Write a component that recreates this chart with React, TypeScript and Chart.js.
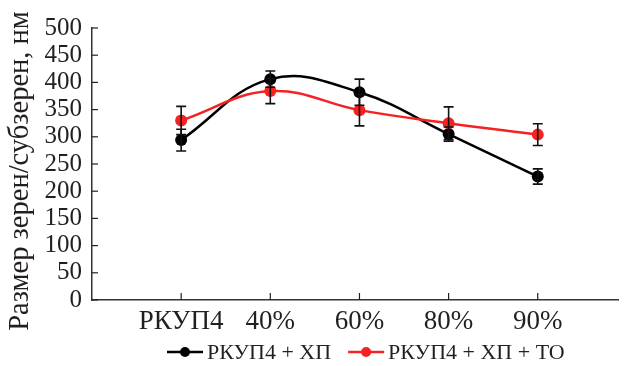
import React, { useEffect, useRef } from "react";
import { Chart, registerables } from "chart.js";

Chart.register(...registerables);

const categories = ["РКУП4", "40%", "60%", "80%", "90%"];
const xPositions = [1, 2, 3, 4, 5];
const seriesHP = [294, 406, 382, 305, 227];
const errHP = [20, 15, 24, 13, 14];
const seriesHPTO = [330, 384, 349, 325, 304];
const errHPTO = [26, 23, 29, 30, 20];
const legendLabels = ["РКУП4 + ХП", "РКУП4 + ХП + ТО"];
const yTitle = "Размер зерен/субзерен, нм";
const yMin = 0;
const yMax = 500;
const yStep = 50;

const FONT = "'Liberation Serif', 'Times New Roman', serif";
const TEXT = "#231f20";
const BLACK = "#000000";
const RED = "#f42222";

export default function App() {
  const ref = useRef<HTMLCanvasElement | null>(null);

  useEffect(() => {
    document.body.style.margin = "0";
    const canvas = ref.current;
    if (!canvas) return;

    const errorBars = {
      id: "errorBars",
      afterDatasetsDraw(chart: any) {
        const ctx = chart.ctx;
        const xs = chart.scales.x;
        const ys = chart.scales.y;
        const sets = [
          { v: seriesHP, e: errHP },
          { v: seriesHPTO, e: errHPTO },
        ];
        ctx.save();
        ctx.strokeStyle = "#111";
        ctx.lineWidth = 1.6;
        sets.forEach((s) => {
          s.v.forEach((val, i) => {
            const px = xs.getPixelForValue(xPositions[i]);
            const top = ys.getPixelForValue(val + s.e[i]);
            const bot = ys.getPixelForValue(val - s.e[i]);
            ctx.beginPath();
            ctx.moveTo(px, top);
            ctx.lineTo(px, bot);
            ctx.moveTo(px - 5, top);
            ctx.lineTo(px + 5, top);
            ctx.moveTo(px - 5, bot);
            ctx.lineTo(px + 5, bot);
            ctx.stroke();
          });
        });
        ctx.restore();
      },
    };

    const innerTicks = {
      id: "innerTicks",
      afterDraw(chart: any) {
        const ctx = chart.ctx;
        const xs = chart.scales.x;
        const ys = chart.scales.y;
        const area = chart.chartArea;
        ctx.save();
        ctx.strokeStyle = "#222";
        ctx.lineWidth = 1.2;
        for (let v = yMin; v <= yMax; v += yStep) {
          const py = ys.getPixelForValue(v);
          ctx.beginPath();
          ctx.moveTo(area.left, py);
          ctx.lineTo(area.left + 6, py);
          ctx.stroke();
        }
        xPositions.forEach((xv) => {
          const px = xs.getPixelForValue(xv);
          ctx.beginPath();
          ctx.moveTo(px, area.bottom);
          ctx.lineTo(px, area.bottom - 7);
          ctx.stroke();
        });
        ctx.restore();
      },
    };

    const yTitlePlugin = {
      id: "yTitlePlugin",
      afterDraw(chart: any) {
        const ctx = chart.ctx;
        ctx.save();
        ctx.translate(21, 171);
        ctx.rotate(-Math.PI / 2);
        ctx.font = `28.5px ${FONT}`;
        ctx.fillStyle = TEXT;
        ctx.textAlign = "center";
        ctx.textBaseline = "middle";
        ctx.fillText(yTitle, 0, 0);
        ctx.restore();
      },
    };

    const customLegend = {
      id: "customLegend",
      afterDraw(chart: any) {
        const ctx = chart.ctx;
        const y = 352;
        const colors = [BLACK, RED];
        ctx.save();
        ctx.font = `22px ${FONT}`;
        ctx.textBaseline = "middle";
        ctx.textAlign = "left";
        let x = 167;
        legendLabels.forEach((lab, i) => {
          ctx.strokeStyle = colors[i];
          ctx.fillStyle = colors[i];
          ctx.lineWidth = 2.5;
          ctx.beginPath();
          ctx.moveTo(x, y);
          ctx.lineTo(x + 36, y);
          ctx.stroke();
          ctx.beginPath();
          ctx.arc(x + 18, y, 5, 0, Math.PI * 2);
          ctx.fill();
          ctx.fillStyle = TEXT;
          ctx.fillText(lab, x + 40, y + 1);
          x += 40 + ctx.measureText(lab).width + 17;
        });
        ctx.restore();
      },
    };

    const chart = new Chart(canvas, {
      type: "line",
      data: {
        datasets: [
          {
            label: legendLabels[0],
            data: xPositions.map((x, i) => ({ x, y: seriesHP[i] })),
            borderColor: BLACK,
            backgroundColor: BLACK,
            borderWidth: 2.5,
            pointRadius: 6,
            pointBorderWidth: 0,
            tension: 0.4,
            order: 1,
          },
          {
            label: legendLabels[1],
            data: xPositions.map((x, i) => ({ x, y: seriesHPTO[i] })),
            borderColor: RED,
            backgroundColor: RED,
            borderWidth: 2.5,
            pointRadius: 6,
            pointBorderWidth: 0,
            tension: 0.4,
            order: 0,
          },
        ],
      },
      options: {
        animation: false,
        responsive: false,
        maintainAspectRatio: false,
        layout: { padding: { top: 28, right: 2, left: 0, bottom: 0 } },
        plugins: {
          legend: { display: false },
          tooltip: { enabled: false },
        },
        scales: {
          x: {
            type: "linear",
            min: 0,
            max: 5.9,
            afterBuildTicks(scale: any) {
              scale.ticks = xPositions.map((v) => ({ value: v }));
            },
            afterFit(scale: any) {
              scale.height = 66;
            },
            ticks: {
              autoSkip: false,
              maxRotation: 0,
              padding: 6,
              color: TEXT,
              font: { family: FONT, size: 27 },
              callback: (v: any) => {
                const i = xPositions.indexOf(Number(v));
                return i >= 0 ? categories[i] : "";
              },
            },
            grid: { display: false, drawTicks: false },
            border: { display: true, color: "#333", width: 1.5 },
          },
          y: {
            min: yMin,
            max: yMax,
            afterBuildTicks(scale: any) {
              const t = [];
              for (let v = yMin; v <= yMax; v += yStep) t.push({ value: v });
              scale.ticks = t;
            },
            afterFit(scale: any) {
              scale.width = 92;
            },
            ticks: {
              autoSkip: false,
              stepSize: yStep,
              padding: 10,
              color: TEXT,
              font: { family: FONT, size: 25 },
            },
            title: { display: false },
            grid: { display: false, drawTicks: false },
            border: { display: true, color: "#333", width: 1.5 },
          },
        },
      },
      plugins: [errorBars, innerTicks, yTitlePlugin, customLegend],
    } as any);

    return () => chart.destroy();
  }, []);

  return (
    <div style={{ width: 624, height: 366 }}>
      <canvas ref={ref} width={624} height={366} style={{ display: "block" }} />
    </div>
  );
}
